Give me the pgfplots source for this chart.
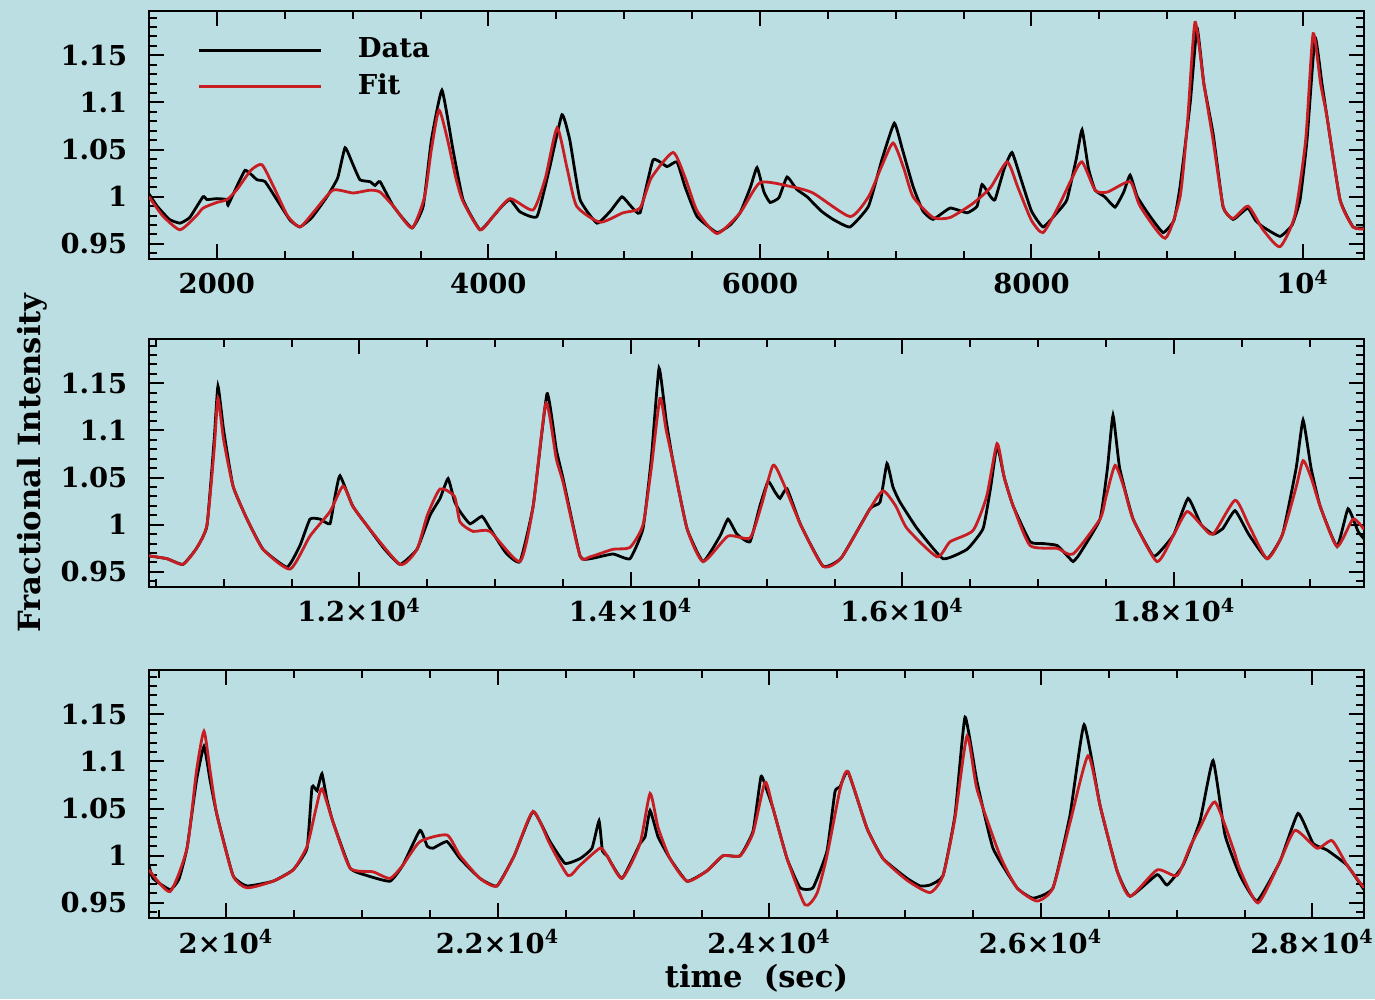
\documentclass[border=0pt]{standalone}
\usepackage{pgfplots}
\pgfplotsset{compat=1.18}
\usepackage{fontspec}
\setmainfont{DejaVu Serif}
\definecolor{bg}{RGB}{187,222,226}
\definecolor{fitred}{RGB}{200,30,35}
\newcommand{\lblfont}{\fontsize{7.8}{9}\selectfont\bfseries}
\newcommand{\axlblfont}{\fontsize{8.7}{10}\selectfont\bfseries}
\pgfplotsset{
  panel/.style={
    scale only axis, width=121.5mm, height=24.8mm,
    ymin=0.934, ymax=1.197,
    scaled x ticks=false, scaled y ticks=false,
    ytick={0.95,1,1.05,1.1,1.15},
    yticklabels={0.95,1,1.05,1.1,1.15},
    minor ytick={0.94,0.96,0.97,0.98,0.99,1.01,1.02,1.03,1.04,1.06,1.07,1.08,1.09,1.11,1.12,1.13,1.14,1.16,1.17,1.18,1.19},
    tick align=inside,
    major tick length=1.5mm, minor tick length=0.8mm,
    every tick/.style={black, line width=0.2mm},
    axis line style={line width=0.25mm},
    tick label style={font=\lblfont},
    yticklabel style={anchor=east, inner sep=0pt, xshift=-2.1mm},
    xticklabel style={anchor=base, inner sep=0pt, yshift=-3.5mm},
    every axis y label/.style={at={(rel axis cs:-0.089,0.5)}, rotate=90, anchor=base, font=\axlblfont},
    every axis x label/.style={at={(rel axis cs:0.5,0)}, anchor=base, yshift=-6.9mm, font=\axlblfont},
  },
  dat/.style={black, line width=0.28mm, smooth, tension=0.25},
  fit/.style={fitred, line width=0.28mm, smooth, tension=0.35},
}
\begin{document}
\begin{tikzpicture}
\path[use as bounding box, fill=bg] (0,0) rectangle (137.5mm,99.9mm);

% ---------------- panel 1 ----------------
\begin{axis}[panel, at={(14.9mm,74.0mm)}, anchor=south west,
  xmin=1500, xmax=10450,
  xtick={2000,4000,6000,8000,10000},
  xticklabels={2000,4000,6000,8000,10\textsuperscript{4}},
  minor xtick={2500,3000,3500,4500,5000,5500,6500,7000,7500,8500,9000,9500},
  legend style={at={(rel axis cs:0,1)}, anchor=north west, xshift=4.9mm, yshift=-2.7mm,
    draw=none, fill=none, inner sep=0pt, outer sep=0pt, row sep=1.0mm, column sep=3.5mm,
    font=\lblfont, nodes={inner sep=0pt}},
  legend cell align=left,
  legend image code/.code={\draw[#1] (0mm,0mm) -- (12.2mm,0mm);},
]
\addplot[dat] coordinates {
(1500,1.003) (1560,0.99) (1650,0.976) (1728,0.972) (1800,0.978) (1898,1.0) (1927,0.997)
(2000,0.998) (2075,0.997) (2082,0.991) (2150,1.012) (2207,1.028) (2250,1.024) (2296,1.018)
(2355,1.016) (2450,0.995) (2540,0.975) (2612,0.968) (2700,0.978) (2811,1.0) (2890,1.02)
(2944,1.052) (3000,1.035) (3054,1.018) (3128,1.016) (3165,1.012) (3202,1.016) (3300,0.99)
(3437,0.967) (3520,0.99) (3580,1.06) (3658,1.113) (3739,1.05) (3813,0.997) (3938,0.965)
(4034,0.979) (4100,0.99) (4159,0.997) (4233,0.984) (4358,0.979) (4450,1.03) (4542,1.087)
(4600,1.06) (4675,0.997) (4800,0.972) (4900,0.985) (4984,1.0) (5050,0.99) (5117,0.983)
(5213,1.039) (5316,1.032) (5389,1.037) (5450,1.01) (5537,0.979) (5684,0.962) (5780,0.97)
(5854,0.983) (5930,1.01) (5979,1.031) (6030,1.005) (6075,0.994) (6140,0.999) (6200,1.021)
(6270,1.008) (6347,1.0) (6450,0.985) (6539,0.976) (6664,0.968) (6800,0.99) (6900,1.04)
(6990,1.078) (7050,1.05) (7128,1.011) (7200,0.985) (7275,0.976) (7401,0.988) (7526,0.983)
(7600,0.99) (7636,1.013) (7700,1.0) (7732,0.997) (7800,1.03) (7857,1.047) (7920,1.02)
(8000,0.985) (8086,0.968) (8200,0.985) (8262,0.997) (8330,1.04) (8373,1.071) (8420,1.03)
(8469,1.007) (8540,1.0) (8616,0.989) (8680,1.005) (8727,1.023) (8780,1.0) (8870,0.98)
(8970,0.962) (9050,0.975) (9095,1.011) (9170,1.10) (9220,1.179) (9270,1.12) (9338,1.067)
(9412,0.989) (9485,0.976) (9540,0.982) (9596,0.988) (9650,0.975) (9706,0.968) (9831,0.958)
(9920,0.97) (9979,0.997) (10030,1.06) (10089,1.169) (10140,1.12) (10178,1.084) (10273,0.997)
(10369,0.968) (10450,0.967)
};
\addlegendentry{Data}
\addplot[fit] coordinates {
(1500,1.0) (1600,0.98) (1728,0.965) (1850,0.98) (1898,0.988) (2000,0.994) (2075,0.997)
(2150,1.008) (2250,1.028) (2332,1.034) (2420,1.01) (2520,0.98) (2612,0.968) (2720,0.985)
(2855,1.007) (3003,1.004) (3128,1.007) (3202,1.005) (3300,0.99) (3437,0.967) (3530,1.0)
(3580,1.05) (3636,1.092) (3700,1.06) (3760,1.02) (3813,0.995) (3938,0.965) (4034,0.979)
(4159,0.998) (4329,0.986) (4420,1.02) (4506,1.073) (4580,1.03) (4650,0.99) (4822,0.973)
(4992,0.983) (5117,0.988) (5200,1.02) (5360,1.047) (5450,1.02) (5537,0.985) (5684,0.961)
(5854,0.983) (6001,1.015) (6222,1.011) (6391,1.004) (6664,0.979) (6800,1.0) (6890,1.03)
(6981,1.057) (7060,1.03) (7128,1.0) (7275,0.978) (7401,0.978) (7570,0.993) (7700,1.01)
(7821,1.037) (7900,1.01) (8000,0.975) (8086,0.962) (8200,0.99) (8300,1.02) (8373,1.037)
(8469,1.007) (8560,1.005) (8727,1.016) (8800,0.99) (8985,0.956) (9095,1.0) (9150,1.08)
(9205,1.185) (9270,1.12) (9338,1.06) (9412,0.99) (9485,0.977) (9596,0.99) (9706,0.965)
(9831,0.947) (9940,0.98) (10020,1.06) (10075,1.173) (10130,1.12) (10178,1.084) (10273,0.997)
(10369,0.968) (10450,0.966)
};
\addlegendentry{Fit}
\end{axis}

% ---------------- panel 2 ----------------
\begin{axis}[panel, at={(14.9mm,41.2mm)}, anchor=south west,
  xmin=10450, xmax=19400,
  xtick={12000,14000,16000,18000},
  xticklabels={1.2×10\textsuperscript{4},1.4×10\textsuperscript{4},1.6×10\textsuperscript{4},1.8×10\textsuperscript{4}},
  minor xtick={10500,11000,11500,12500,13000,13500,14500,15000,15500,16500,17000,17500,18500,19000},
  ylabel={Fractional Intensity},
]
\addplot[dat] coordinates {
(10450,0.967) (10583,0.964) (10700,0.958) (10800,0.975) (10877,0.999) (10930,1.09) (10958,1.147)
(11000,1.1) (11069,1.041) (11172,1.006) (11290,0.974) (11467,0.955) (11562,0.978) (11636,1.006)
(11710,1.006) (11783,1.001) (11820,1.03) (11857,1.052) (11950,1.02) (12056,0.999) (12180,0.975)
(12299,0.958) (12424,0.974) (12520,1.01) (12594,1.028) (12653,1.049) (12700,1.025) (12741,1.014)
(12815,1.001) (12903,1.009) (12962,0.996) (13080,0.97) (13183,0.961) (13280,1.02) (13382,1.139)
(13450,1.08) (13500,1.049) (13625,0.967) (13699,0.964) (13868,0.969) (13993,0.964) (14089,0.996)
(14150,1.07) (14207,1.166) (14260,1.11) (14310,1.067) (14413,0.996) (14531,0.961) (14656,0.988)
(14715,1.006) (14781,0.99) (14877,0.982) (14950,1.02) (15010,1.046) (15060,1.035) (15098,1.028)
(15150,1.038) (15250,1.0) (15415,0.956) (15550,0.965) (15761,1.017) (15835,1.024) (15886,1.065)
(15930,1.04) (15982,1.024) (16108,0.996) (16299,0.964) (16476,0.974) (16594,0.996) (16650,1.04)
(16697,1.084) (16750,1.05) (16815,1.02) (16940,0.982) (17040,0.98) (17139,0.978) (17234,0.964)
(17257,0.961) (17300,0.968) (17455,1.006) (17510,1.06) (17551,1.116) (17600,1.06) (17699,1.006)
(17846,0.967) (17912,0.974) (18000,0.99) (18104,1.028) (18200,1.0) (18288,0.99) (18360,0.996)
(18450,1.015) (18550,0.99) (18686,0.964) (18800,0.99) (18900,1.06) (18951,1.111) (19010,1.06)
(19076,1.02) (19201,0.977) (19282,1.017) (19356,0.993) (19400,0.985)
};
\addplot[fit] coordinates {
(10450,0.967) (10583,0.964) (10700,0.958) (10800,0.975) (10877,1.0) (10930,1.08) (10958,1.134)
(11000,1.09) (11069,1.041) (11172,1.006) (11290,0.974) (11490,0.953) (11636,0.988) (11783,1.014)
(11879,1.041) (11950,1.02) (12056,0.999) (12299,0.958) (12424,0.974) (12500,1.01) (12594,1.038)
(12700,1.03) (12741,1.003) (12837,0.993) (12962,0.993) (13183,0.961) (13280,1.02) (13374,1.129)
(13450,1.07) (13500,1.045) (13625,0.967) (13699,0.966) (13868,0.974) (13993,0.976) (14089,1.0)
(14150,1.06) (14214,1.134) (14260,1.1) (14310,1.067) (14413,0.996) (14531,0.961) (14715,0.988)
(14877,0.986) (14960,1.02) (15047,1.063) (15120,1.045) (15250,1.0) (15415,0.956) (15550,0.965)
(15761,1.017) (15857,1.036) (15950,1.02) (16034,0.996) (16255,0.966) (16351,0.982) (16520,0.994)
(16620,1.03) (16697,1.086) (16750,1.05) (16815,1.02) (16940,0.978) (17139,0.975) (17257,0.969)
(17455,1.006) (17500,1.03) (17566,1.063) (17630,1.04) (17699,1.006) (17875,0.961) (18000,0.99)
(18096,1.014) (18200,1.0) (18288,0.99) (18450,1.026) (18550,1.0) (18686,0.964) (18800,0.99)
(18900,1.04) (18951,1.068) (19010,1.05) (19076,1.02) (19201,0.977) (19319,1.006) (19400,0.995)
};
\end{axis}

% ---------------- panel 3 ----------------
\begin{axis}[panel, at={(14.9mm,8.1mm)}, anchor=south west,
  xmin=19430, xmax=28380,
  xtick={20000,22000,24000,26000,28000},
  xticklabels={2×10\textsuperscript{4},2.2×10\textsuperscript{4},2.4×10\textsuperscript{4},2.6×10\textsuperscript{4},2.8×10\textsuperscript{4}},
  minor xtick={19500,20500,21000,21500,22500,23000,23500,24500,25000,25500,26500,27000,27500},
  xlabel={time~~(sec)},
]
\addplot[dat] coordinates {
(19430,0.99) (19459,0.976) (19585,0.964) (19650,0.975) (19710,1.008) (19780,1.08) (19835,1.116)
(19880,1.08) (19931,1.043) (20049,0.979) (20152,0.968) (20343,0.973) (20491,0.985) (20594,1.008)
(20631,1.073) (20668,1.069) (20704,1.087) (20740,1.06) (20785,1.036) (20911,0.987) (21036,0.979)
(21205,0.973) (21300,0.99) (21426,1.027) (21480,1.01) (21522,1.008) (21625,1.015) (21721,0.997)
(21868,0.976) (21993,0.968) (22120,1.0) (22259,1.047) (22384,1.015) (22494,0.992) (22605,0.997)
(22693,1.008) (22745,1.037) (22770,1.005) (22804,1.0) (22914,0.976) (23047,1.013) (23084,1.02)
(23121,1.048) (23180,1.02) (23268,0.997) (23393,0.973) (23540,0.984) (23658,1.0) (23784,1.0)
(23879,1.026) (23938,1.084) (23980,1.07) (24027,1.05) (24130,0.997) (24226,0.966) (24321,0.966)
(24424,1.005) (24483,1.068) (24520,1.073) (24579,1.089) (24719,1.029) (24837,0.997) (25014,0.976)
(25110,0.968) (25183,0.969) (25279,0.979) (25367,1.043) (25441,1.147) (25530,1.078) (25647,1.008)
(25824,0.966) (25942,0.955) (26089,0.966) (26214,1.043) (26318,1.139) (26436,1.053) (26561,0.984)
(26657,0.957) (26856,0.98) (26929,0.969) (27047,0.99) (27172,1.037) (27268,1.101) (27356,1.022)
(27467,0.979) (27592,0.952) (27761,0.994) (27894,1.045) (28005,1.013) (28108,1.006) (28255,0.99)
(28380,0.964)
};
\addplot[fit] coordinates {
(19430,0.985) (19585,0.962) (19710,1.008) (19780,1.09) (19835,1.132) (19880,1.09) (19931,1.043)
(20049,0.979) (20152,0.966) (20343,0.973) (20491,0.985) (20594,1.01) (20660,1.05) (20704,1.071)
(20785,1.036) (20911,0.987) (21080,0.983) (21205,0.976) (21300,0.99) (21426,1.015) (21625,1.022)
(21721,1.0) (21868,0.976) (21993,0.968) (22120,1.0) (22259,1.047) (22384,1.012) (22517,0.979)
(22605,0.99) (22752,1.008) (22804,1.0) (22914,0.976) (23047,1.013) (23121,1.066) (23180,1.03)
(23268,0.997) (23393,0.973) (23540,0.984) (23658,1.0) (23784,1.0) (23879,1.024) (23968,1.078)
(24027,1.05) (24130,0.997) (24262,0.948) (24350,0.96) (24424,1.0) (24520,1.07) (24579,1.089)
(24719,1.029) (24837,0.997) (25014,0.974) (25183,0.961) (25279,0.979) (25367,1.04) (25456,1.127)
(25530,1.07) (25699,1.0) (25824,0.966) (25971,0.952) (26089,0.966) (26214,1.035) (26347,1.106)
(26436,1.053) (26561,0.984) (26657,0.957) (26856,0.985) (27003,0.979) (27100,1.01) (27172,1.03)
(27283,1.057) (27415,1.008) (27467,0.985) (27599,0.95) (27761,0.994) (27872,1.027) (28034,1.008)
(28145,1.016) (28255,0.99) (28380,0.966)
};
\end{axis}
\end{tikzpicture}
\end{document}
